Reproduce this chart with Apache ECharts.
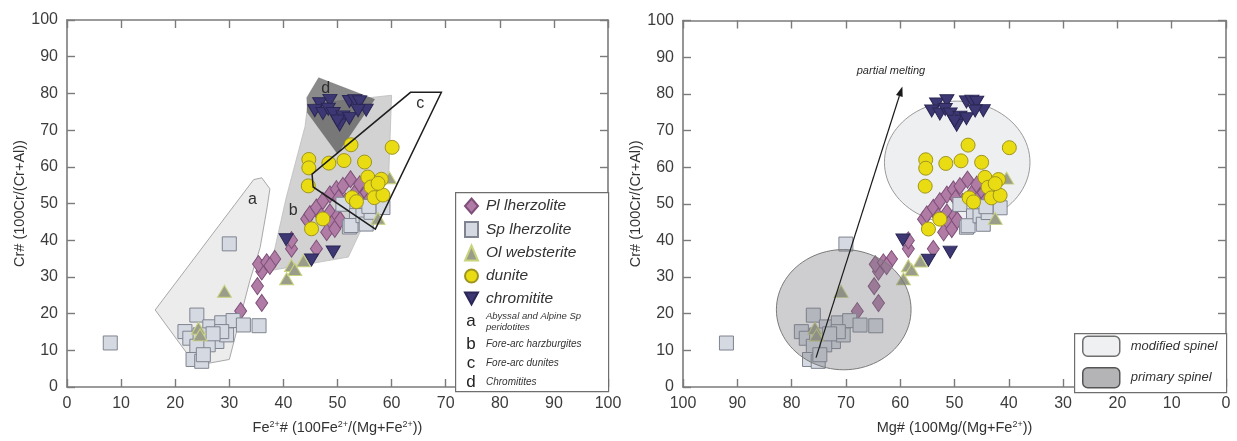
<!DOCTYPE html>
<html>
<head>
<meta charset="utf-8">
<script src="https://cdn.jsdelivr.net/npm/echarts@6/dist/echarts.min.js"></script>
<style>
  html, body { margin: 0; padding: 0; background: #fff; }
  #chart { width: 1237px; height: 441px; }
</style>
</head>
<body>
<div id="chart"></div>
<script>
// Spinel analyses as [Fe2+#, Cr#]
const plLherzolite = [
  [32.1, 20.7], [36.0, 22.9], [35.2, 27.5], [36.0, 31.5], [35.4, 33.5], [36.9, 34.0], [38.4, 34.9], [37.5, 33.0],
  [41.5, 37.7], [41.5, 40.0], [46.1, 37.7],
  [44.3, 45.8], [44.9, 47.1], [46.1, 48.9], [47.3, 50.7], [48.6, 52.5], [49.8, 53.9], [51.0, 54.8], [52.4, 56.6],
  [53.5, 53.4], [54.1, 55.2], [54.7, 52.1], [55.3, 53.0], [55.8, 51.0],
  [48.6, 47.6], [49.8, 46.2], [48.9, 44.4], [48.0, 42.2], [49.5, 43.1], [50.5, 45.5], [47.0, 46.5], [51.5, 50.5], [50.2, 51.5]
];
const spLherzolite = [
  [8.0, 12.0], [30.0, 39.0],
  [24.0, 19.6], [21.8, 15.1], [22.7, 13.3], [26.4, 16.4], [28.6, 17.5], [30.7, 18.1], [32.6, 16.9], [35.5, 16.7],
  [24.6, 14.2], [27.7, 12.4], [29.5, 14.2], [26.1, 11.5], [24.0, 11.1], [23.3, 7.5], [24.9, 7.0], [25.2, 8.8],
  [28.6, 15.1], [27.0, 14.5],
  [51.0, 49.8], [52.2, 43.6], [53.5, 46.7], [52.5, 44.0], [54.7, 46.7], [55.3, 44.4], [56.2, 47.6], [58.4, 48.9], [55.8, 49.2]
];
const olWebsterite = [
  [29.1, 26.1], [24.3, 16.0], [24.6, 14.2], [40.6, 29.5], [41.5, 33.1], [42.1, 32.0], [43.7, 34.4], [59.6, 57.0], [57.5, 46.0]
];
const dunite = [
  [60.1, 65.3], [52.5, 66.0], [44.7, 62.0], [44.7, 59.7], [48.4, 61.0], [51.2, 61.7], [55.0, 61.3], [44.6, 54.8],
  [55.6, 57.2], [56.2, 54.5], [58.1, 56.6], [56.8, 51.6], [58.4, 52.3], [52.7, 51.6], [47.3, 45.8], [45.2, 43.1],
  [57.5, 55.5], [53.5, 50.5]
];
const chromitite = [
  [46.7, 77.2], [48.6, 78.1], [52.2, 77.8], [53.2, 78.0], [54.1, 77.7], [55.3, 75.4], [45.8, 75.3], [47.3, 74.5],
  [48.3, 75.7], [49.2, 74.5], [51.0, 73.6], [50.4, 71.4], [52.2, 73.2], [53.8, 75.3], [50.0, 72.5],
  [49.2, 36.8], [45.2, 34.6], [40.5, 40.1]
];

// Reference fields (Fe2+#, Cr#) and the spot for each field letter
const fieldA = [[16.3, 21], [34.5, 56.5], [36, 57], [37.5, 54], [37, 49], [35.7, 38], [33.8, 29], [30, 7.5], [25.5, 6.3], [23, 7.5]];
const fieldB = [[37.5, 31.7], [40.5, 51.5], [44, 71], [44.5, 77], [60, 79.5], [59.5, 59], [52, 35.4]];
const fieldC = [[45.3, 58], [63.5, 80.3], [69.2, 80.3], [57, 43], [45.5, 54.5]];
const fieldD = [[44.3, 78.9], [46.5, 84.3], [56.9, 78.4], [50.0, 63.5], [44.4, 74.8]];
const fieldLetterSpots = { a: [34.3, 51.1], b: [41.8, 48.0], c: [65.3, 77.1], d: [47.8, 81.3] };

// Spinel groups on the Mg# plot: [centre Mg#, centre Cr#, half-width Mg#, half-height Cr#]
const modifiedSpinelField = [49.5, 61.3, 13.4, 16.7];
const primarySpinelField = [70.4, 21.1, 12.4, 16.4];
// Partial-melting trend: [Mg#, Cr#] start and end
const meltingTrend = [[75.5, 8.0], [59.6, 82.0]];
const meltingLabelAt = [61.7, 86.3];

// Axis range shared by both plots
const AXIS_MIN = 0, AXIS_MAX = 100, AXIS_STEP = 10;

// Mg# and Fe2+# add up to 100, so the right-hand plot reuses the same analyses
const toMg = pts => pts.map(([fe, cr]) => [100 - fe, cr]);

const FONT = '"Liberation Sans", Arial, Helvetica, sans-serif';
const FRAME = '#7b7b7b';

const lithologies = [
  { name: 'Pl lherzolite', data: plLherzolite, symbol: 'diamond', size: [12, 17], color: '#b07ca6', border: '#7d4f78' },
  { name: 'Sp lherzolite', data: spLherzolite, symbol: 'rect', size: [14, 14], color: '#d5d9e1', border: '#7f8490' },
  { name: 'Ol websterite', data: olWebsterite, symbol: 'triangle', size: [14, 12], color: '#9b9d8b', border: '#c9d27c' },
  { name: 'dunite', data: dunite, symbol: 'circle', size: 14, color: '#e9dc12', border: '#9e9520' },
  { name: 'chromitite', data: chromitite, symbol: 'path://M0,0L12,0L6,11Z', size: [14, 12], color: '#3d3873', border: '#2a2655' }
];

const supRich = {
  s: { fontSize: 9, lineHeight: 9, verticalAlign: 'top', color: '#333', fontFamily: FONT }
};

function frameParts() {
  return {
    type: 'value', min: AXIS_MIN, max: AXIS_MAX, interval: AXIS_STEP,
    axisLine: { onZero: false, lineStyle: { color: FRAME, width: 1.6 } },
    axisTick: { inside: true, length: 8, lineStyle: { color: FRAME, width: 1.4 } },
    splitLine: { show: false }
  };
}

function xAxes(gridIndex, name, inverse) {
  return [
    Object.assign(frameParts(), {
      gridIndex, inverse, position: 'bottom',
      axisLabel: { color: '#3c3c3c', fontSize: 16, margin: 9, fontFamily: FONT },
      name, nameLocation: 'middle', nameGap: 33,
      nameTextStyle: { fontSize: 14.5, color: '#333', fontFamily: FONT, lineHeight: 16, rich: supRich }
    }),
    Object.assign(frameParts(), { gridIndex, inverse, position: 'top', axisLabel: { show: false } })
  ];
}

function yAxes(gridIndex, name) {
  return [
    Object.assign(frameParts(), {
      gridIndex, position: 'left',
      axisLabel: { color: '#3c3c3c', fontSize: 16, margin: 9, fontFamily: FONT },
      name, nameLocation: 'middle', nameGap: 39,
      nameTextStyle: { fontSize: 14.5, color: '#333', fontFamily: FONT }
    }),
    Object.assign(frameParts(), { gridIndex, position: 'right', axisLabel: { show: false } })
  ];
}

function scatterSeries(lith, axisIndex, points) {
  return {
    type: 'scatter', name: lith.name,
    xAxisIndex: axisIndex * 2, yAxisIndex: axisIndex * 2,
    data: points, symbol: lith.symbol, symbolSize: lith.size,
    itemStyle: { color: lith.color, borderColor: lith.border, borderWidth: 1, opacity: 1 },
    emphasis: { disabled: true }, z: 3
  };
}

function fieldSeries(pts, style, letter, z) {
  return {
    type: 'custom', xAxisIndex: 0, yAxisIndex: 0, data: [0], silent: true, z,
    renderItem: (params, api) => {
      const children = [{ type: 'polygon', shape: { points: pts.map(p => api.coord(p)) }, style }];
      if (letter) {
        const at = api.coord(fieldLetterSpots[letter]);
        children.push({
          type: 'text', x: at[0], y: at[1],
          style: { text: letter, fill: '#2e2e2e', font: '16px ' + FONT, align: 'center', verticalAlign: 'middle' }
        });
      }
      return { type: 'group', children };
    }
  };
}

function ellipseSeries(name, field, style, z) {
  return {
    type: 'custom', name, xAxisIndex: 2, yAxisIndex: 2, data: [0], silent: true, z,
    itemStyle: { color: style.fill },
    renderItem: (params, api) => {
      const c = api.coord([field[0], field[1]]);
      const s = api.size([field[2], field[3]]);
      const rx = Math.abs(s[0]), ry = Math.abs(s[1]);
      const points = [];
      for (let i = 0; i < 96; i++) {
        const t = (i / 96) * Math.PI * 2;
        points.push([c[0] + rx * Math.cos(t), c[1] + ry * Math.sin(t)]);
      }
      return { type: 'polygon', shape: { points }, style };
    }
  };
}

const trendSeries = {
  type: 'custom', xAxisIndex: 2, yAxisIndex: 2, data: [0], silent: true, z: 6,
  renderItem: (params, api) => {
    const a = api.coord(meltingTrend[0]);
    const b = api.coord(meltingTrend[1]);
    const dx = b[0] - a[0], dy = b[1] - a[1];
    const len = Math.hypot(dx, dy);
    const ux = dx / len, uy = dy / len;
    const head = 10, half = 3.5;
    const base = [b[0] - ux * head, b[1] - uy * head];
    const t = api.coord(meltingLabelAt);
    return {
      type: 'group',
      children: [
        { type: 'line', shape: { x1: a[0], y1: a[1], x2: base[0], y2: base[1] }, style: { stroke: '#1a1a1a', lineWidth: 1.2 } },
        { type: 'polygon', shape: { points: [b, [base[0] - uy * half, base[1] + ux * half], [base[0] + uy * half, base[1] - ux * half]] }, style: { fill: '#1a1a1a' } },
        { type: 'text', x: t[0], y: t[1], style: { text: 'partial melting', fill: '#2a2a2a', font: 'italic 11px ' + FONT, align: 'center', verticalAlign: 'middle' } }
      ]
    };
  }
};

const series = [
  fieldSeries(fieldA, { fill: '#ececec', stroke: '#a8a8a8', lineWidth: 1 }, 'a', 1),
  fieldSeries(fieldB, { fill: '#d2d2d2', stroke: '#bdbdbd', lineWidth: 0.8 }, 'b', 1),
  fieldSeries(fieldD, { fill: 'rgba(60,60,60,0.6)', stroke: 'rgba(60,60,60,0.2)', lineWidth: 0.5 }, 'd', 2),
  fieldSeries(fieldC, { fill: 'none', stroke: '#1e1e1e', lineWidth: 1.5 }, 'c', 5),
  ellipseSeries('modified spinel', modifiedSpinelField, { fill: '#eeeff0', stroke: '#9a9a9a', lineWidth: 1 }, 1),
  ellipseSeries('primary spinel', primarySpinelField, { fill: 'rgba(120,120,125,0.36)', stroke: '#7a7a7a', lineWidth: 1 }, 5),
  trendSeries
];
lithologies.forEach(l => series.push(scatterSeries(l, 0, l.data)));
lithologies.forEach(l => series.push(scatterSeries(l, 1, toMg(l.data))));

const legendNotes = [
  { letter: 'a', lines: ['Abyssal and Alpine Sp', 'peridotites'], y: 321.5 },
  { letter: 'b', lines: ['Fore-arc harzburgites'], y: 344.5 },
  { letter: 'c', lines: ['Fore-arc dunites'], y: 363.5 },
  { letter: 'd', lines: ['Chromitites'], y: 382.5 }
];
const graphics = [
  { type: 'rect', left: 455, top: 192, shape: { width: 153, height: 199 }, style: { fill: '#fff', stroke: '#6e6e6e', lineWidth: 1.2 }, z: 10 },
  { type: 'rect', left: 1074, top: 333, shape: { width: 152, height: 59 }, style: { fill: '#fff', stroke: '#6e6e6e', lineWidth: 1.2 }, z: 10 }
];
legendNotes.forEach(n => {
  graphics.push({ type: 'text', x: 471, y: n.y, z: 11, style: { text: n.letter, fill: '#222', font: '17px ' + FONT, align: 'center', verticalAlign: 'middle' } });
  if (n.lines.length === 2) {
    graphics.push({ type: 'text', x: 486, y: n.y - 5.5, z: 11, style: { text: n.lines[0], fill: '#333', font: 'italic 9.5px ' + FONT, verticalAlign: 'middle' } });
    graphics.push({ type: 'text', x: 486, y: n.y + 5.5, z: 11, style: { text: n.lines[1], fill: '#333', font: 'italic 9.5px ' + FONT, verticalAlign: 'middle' } });
  } else {
    graphics.push({ type: 'text', x: 486, y: n.y, z: 11, style: { text: n.lines[0], fill: '#333', font: 'italic 10px ' + FONT, verticalAlign: 'middle' } });
  }
});

const chart = echarts.init(document.getElementById('chart'), null, { renderer: 'canvas' });
chart.setOption({
  animation: false,
  backgroundColor: '#fff',
  grid: [
    { left: 67, top: 20, width: 541, height: 371 },
    { left: 683, top: 20.5, width: 543, height: 371 }
  ],
  xAxis: [
    ...xAxes(0, 'Fe{s|2+}# (100Fe{s|2+}/(Mg+Fe{s|2+}))', false),
    ...xAxes(1, 'Mg# (100Mg/(Mg+Fe{s|2+}))', true)
  ],
  yAxis: [
    ...yAxes(0, 'Cr# (100Cr/(Cr+Al))'),
    ...yAxes(1, 'Cr# (100Cr/(Cr+Al))')
  ],
  legend: [
    {
      orient: 'vertical', left: 464, top: 197.5, padding: 0, z: 12,
      itemWidth: 13, itemHeight: 15, itemGap: 6.5,
      selectedMode: false,
      data: lithologies.map(l => l.name),
      textStyle: { fontSize: 15.5, lineHeight: 15, fontStyle: 'italic', color: '#333', fontFamily: FONT, padding: [0, 0, 0, 3] }
    },
    {
      orient: 'vertical', left: 1082, top: 335.5, padding: 0, z: 12,
      itemWidth: 37, itemHeight: 20, itemGap: 10,
      selectedMode: false, icon: 'roundRect',
      data: [
        { name: 'modified spinel', itemStyle: { color: '#eef0f2', borderColor: '#6f6f6f', borderWidth: 1.5 } },
        { name: 'primary spinel', itemStyle: { color: '#b4b4b7', borderColor: '#555', borderWidth: 1.5 } }
      ],
      textStyle: { fontSize: 13, fontStyle: 'italic', color: '#333', fontFamily: FONT, padding: [0, 0, 0, 6] }
    }
  ],
  graphic: graphics,
  series
});
</script>
</body>
</html>
